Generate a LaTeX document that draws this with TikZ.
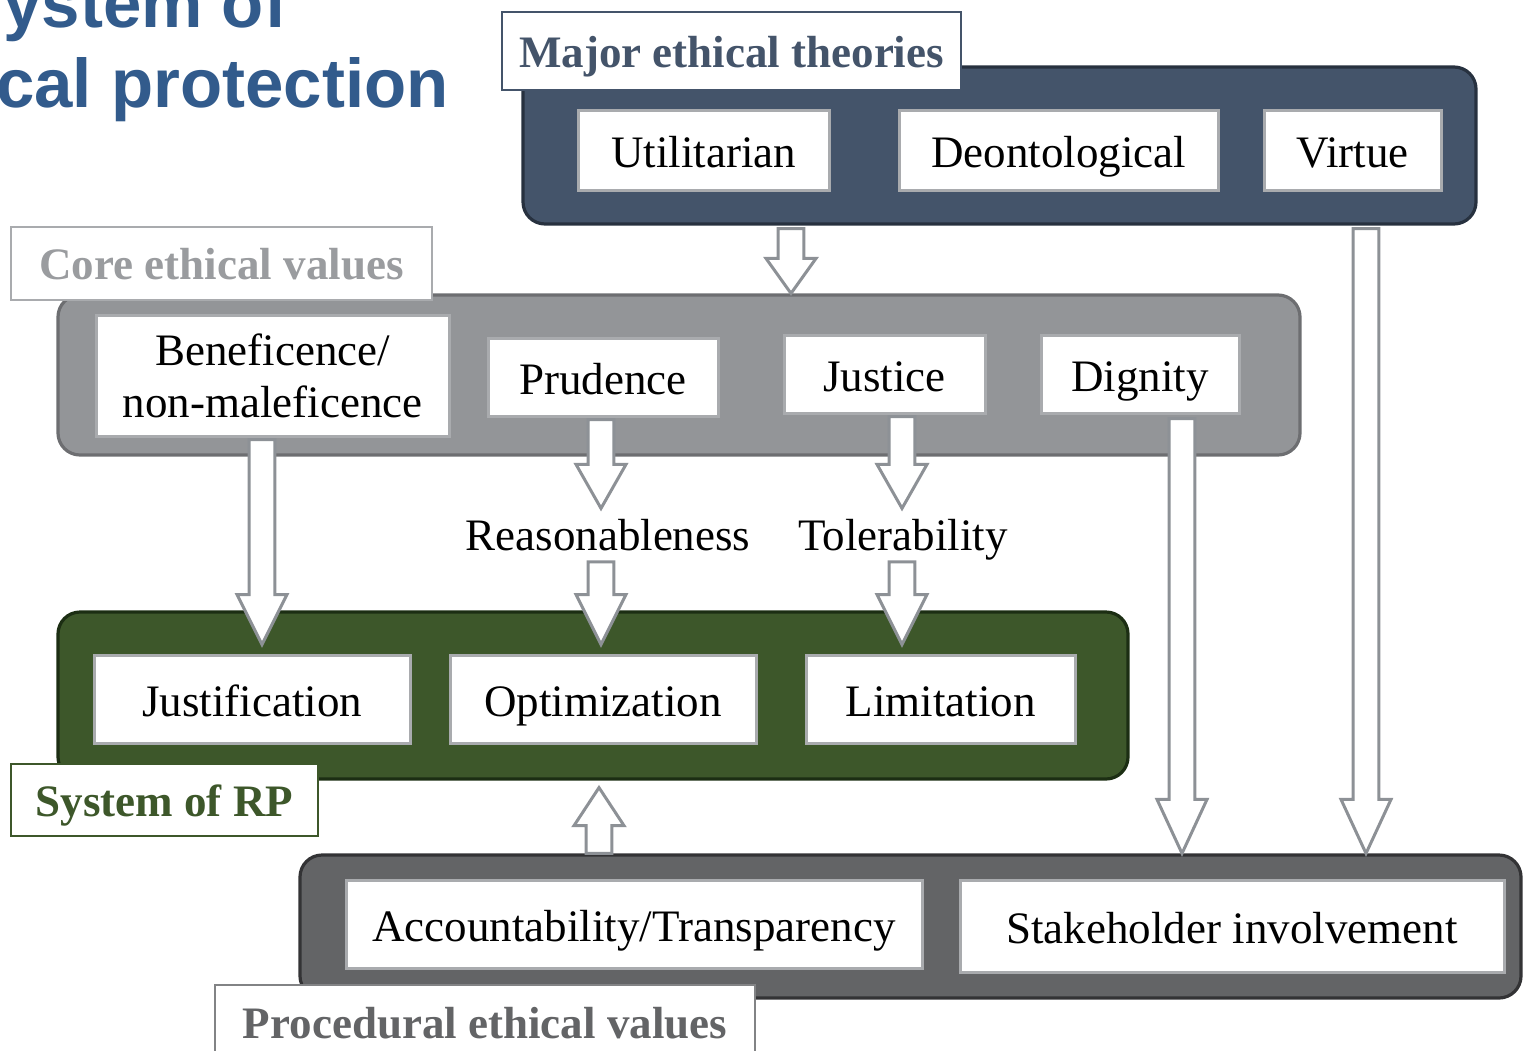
\documentclass[tikz,border=0pt]{standalone}
\usepackage{fontspec}
\setmainfont{Liberation Serif}
\newfontfamily\headfont{Liberation Sans}
\usetikzlibrary{calc}

\definecolor{slate}{HTML}{44546A}
\definecolor{slatedark}{HTML}{27313F}
\definecolor{coregrey}{HTML}{939598}
\definecolor{coregreydark}{HTML}{6D6E71}
\definecolor{coretext}{HTML}{9A9C9F}
\definecolor{rpgreen}{HTML}{3D572A}
\definecolor{rpgreendark}{HTML}{1C2E13}
\definecolor{procgrey}{HTML}{636466}
\definecolor{procgreydark}{HTML}{333335}
\definecolor{boxline}{HTML}{A9ABAE}
\definecolor{arrowline}{HTML}{8D9196}
\definecolor{titleblue}{HTML}{325B8C}

\newcommand\bodyfont{\fontsize{22.5}{26}\selectfont}
\newcommand\tagfont{\fontsize{22.5}{26}\selectfont\bfseries}
\newcommand\titlefont{\headfont\bfseries\fontsize{34.5}{40}\selectfont}

\tikzset{
  container/.style={rounded corners=11pt, line width=1.6pt, inner sep=0pt},
  iboxbase/.style={draw=boxline, fill=white, line width=1.5pt, inner sep=0pt,
    font=\bodyfont, align=center},
  ibox/.style={iboxbase, text height=17pt, text depth=0pt},
  tag/.style={fill=white, line width=1pt, inner sep=0pt, font=\tagfont,
    text height=16pt, text depth=0pt},
  plain/.style={font=\bodyfont, inner sep=0pt},
  barrow/.style={draw=arrowline, fill=white, line width=1.5pt, line join=miter},
}

% rectangle node spanning the pixel corners (x1,y1)-(x2,y2)
% #1 style, #2 name, #3 x1, #4 y1, #5 x2, #6 y2, #7 text
\newcommand\spannode[7]{%
  \pgfmathsetmacro\spw{(#5-#3)*0.5}%
  \pgfmathsetmacro\sph{(#6-#4)*0.5}%
  \pgfmathsetmacro\spx{(#3+#5)/2}%
  \pgfmathsetmacro\spy{(#4+#6)/2}%
  \node[#1, minimum width=\spw pt, minimum height=\sph pt] (#2) at (\spx,\spy) {#7};}

% hollow block arrow: from, to, head length
\newcommand\blockarrow[3]{%
  \coordinate (ba-h) at ($(#2)!#3!(#1)$);
  \draw[barrow]
    ($(#1)!6.4pt!90:(#2)$) -- ($(ba-h)!6.4pt!90:(#2)$) --
    ($(ba-h)!12.5pt!90:(#2)$) -- (#2) --
    ($(ba-h)!12.5pt!-90:(#2)$) -- ($(ba-h)!6.4pt!-90:(#2)$) --
    ($(#1)!6.4pt!-90:(#2)$) -- cycle;}

\begin{document}
\begin{tikzpicture}[x=0.5pt, y=-0.5pt]
\useasboundingbox (0,0) rectangle (1524,1050);
\clip (0,0) rectangle (1524,1050);

% heading
\node[anchor=base west, font=\titlefont, text=titleblue, inner sep=0pt] (title1) at (3,27) {ystem of};
\node[anchor=base east, font=\titlefont, text=titleblue, inner sep=0pt] (title2) at (449,107) {cal protection};

% group containers
\spannode{container, draw=slatedark, fill=slate}{major}{523}{67}{1476}{224}{}
\spannode{container, draw=coregreydark, fill=coregrey}{core}{58}{295}{1300}{455}{}
\spannode{container, draw=rpgreendark, fill=rpgreen}{rp}{58}{612}{1128}{779}{}
\spannode{container, draw=procgreydark, fill=procgrey}{proc}{300}{855}{1521}{998}{}

% group titles
\spannode{tag, draw=slate, text=slate}{majortag}{502}{12}{961}{90}{Major ethical theories}
\spannode{tag, draw=boxline, text=coretext}{coretag}{11}{227}{432}{300}{Core ethical values}
\spannode{tag, draw=rpgreen, text=rpgreen}{rptag}{11}{764}{318}{836}{System of RP}
\spannode{tag, draw=procgrey!80, text=procgrey}{proctag}{215}{985}{755}{1060}{Procedural ethical values}

% theories
\spannode{ibox}{util}{578}{110}{829}{190}{Utilitarian}
\spannode{ibox}{deon}{899}{110}{1218}{190}{Deontological}
\spannode{ibox}{virtue}{1264}{110}{1441}{190}{Virtue}

% core values
\spannode{iboxbase}{benef}{96}{315}{449}{436}{Beneficence/\\non-maleficence}
\spannode{ibox}{prud}{488}{338}{718}{416}{Prudence}
\spannode{ibox}{just}{784}{335}{985}{413}{Justice}
\spannode{ibox}{dign}{1041}{335}{1239}{413}{Dignity}

% principles
\spannode{ibox}{justif}{94}{655}{410}{743}{Justification}
\spannode{ibox}{optim}{450}{655}{756}{743}{Optimization}
\spannode{ibox}{limit}{806}{655}{1075}{743}{Limitation}

% procedural values
\spannode{ibox}{account}{346}{880}{922}{968}{Accountability/Transparency}
\spannode{ibox}{stake}{960}{880}{1504}{972}{Stakeholder involvement}

% intermediate terms
\node[plain, anchor=base] (reason) at (608,550) {Reasonableness};
\node[plain, anchor=base] (toler) at (903,550) {Tolerability};

% arrow columns
\coordinate (c1) at (791,0);
\coordinate (c2) at (1366,0);
\coordinate (c3) at (1182,0);
\coordinate (c4) at (262,0);
\coordinate (c5) at (601,0);
\coordinate (c7) at (902,0);
\coordinate (c9) at (599,0);

\coordinate (a1s) at ($(major.south -| c1)+(0,3)$);
\coordinate (a1e) at (core.north -| c1);
\coordinate (a2s) at ($(major.south -| c2)+(0,3)$);
\coordinate (a2e) at (proc.north -| c2);
\coordinate (a3s) at ($(dign.south -| c3)+(0,4)$);
\coordinate (a3e) at (proc.north -| c3);
\coordinate (a4s) at ($(benef.south -| c4)+(0,2)$);
\coordinate (a4e) at ($(justif.north -| c4)+(0,-9)$);
\coordinate (a5s) at ($(prud.south -| c5)+(0,2)$);
\coordinate (a5e) at ($(reason.north -| c5)+(0,-10)$);
\coordinate (a6s) at ($(reason.south -| c5)+(0,11)$);
\coordinate (a6e) at ($(optim.north -| c5)+(0,-9)$);
\coordinate (a7s) at ($(just.south -| c7)+(0,2)$);
\coordinate (a7e) at ($(reason.north -| c7)+(0,-10)$);
\coordinate (a8s) at ($(reason.south -| c7)+(0,11)$);
\coordinate (a8e) at ($(limit.north -| c7)+(0,-9)$);
\coordinate (a9s) at (proc.north -| c9);
\coordinate (a9e) at ($(rp.south -| c9)+(0,7)$);

\blockarrow{a1s}{a1e}{17.5pt}
\blockarrow{a2s}{a2e}{27pt}
\blockarrow{a3s}{a3e}{27pt}
\blockarrow{a4s}{a4e}{25pt}
\blockarrow{a5s}{a5e}{22pt}
\blockarrow{a6s}{a6e}{25pt}
\blockarrow{a7s}{a7e}{22pt}
\blockarrow{a8s}{a8e}{25pt}
\blockarrow{a9s}{a9e}{19pt}
\end{tikzpicture}
\end{document}
